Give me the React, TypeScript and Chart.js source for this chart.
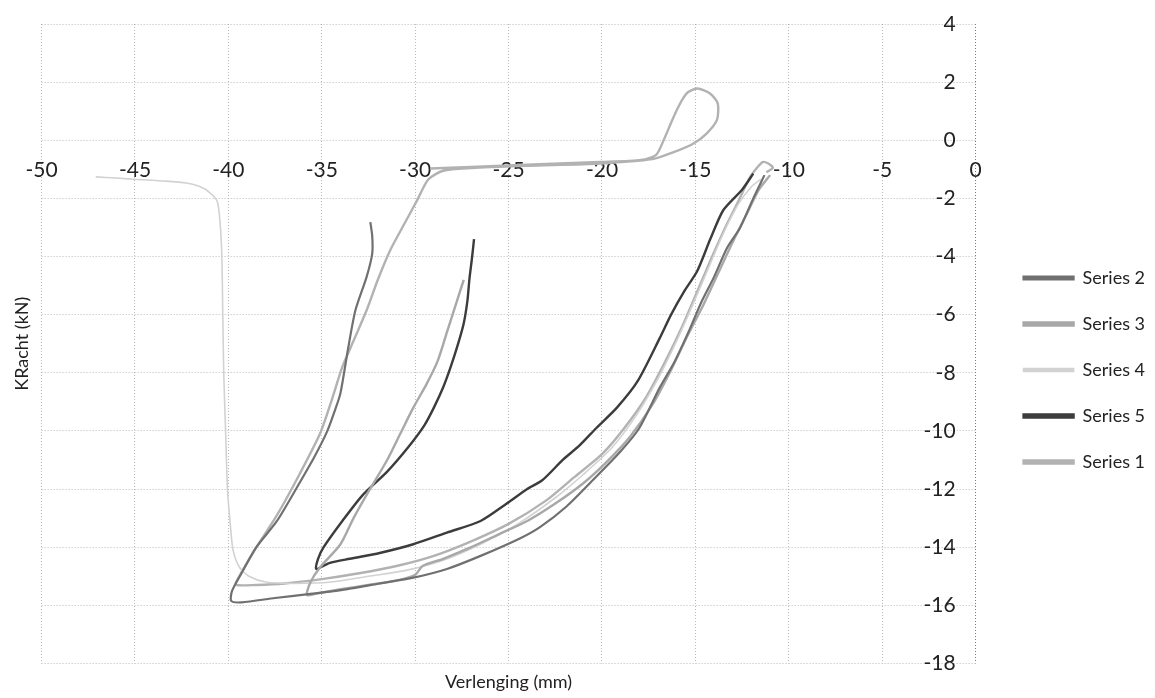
import React, { useEffect, useRef } from 'react';
import { Chart, registerables } from 'chart.js';

Chart.register(...registerables);

type P = [number, number];

// Series order as in the legend
const seriesNames = ['Series 2', 'Series 3', 'Series 4', 'Series 5', 'Series 1'];
const seriesColors = ['#707070', '#a8a8a8', '#d2d2d2', '#3c3c3c', '#b2b2b2'];
const seriesWidths = [2.2, 2.4, 1.6, 2.4, 2.4];

const xTickValues = [-50, -45, -40, -35, -30, -25, -20, -15, -10, -5, 0];
const yTickValues = [-18, -16, -14, -12, -10, -8, -6, -4, -2, 0, 2, 4];

const series2: P[] = [
  [-11.3, -1.2], [-11.9, -2.0], [-12.6, -3.0], [-13.3, -3.7], [-14.0, -4.7], [-14.7, -5.6],
  [-15.3, -6.5], [-16.1, -7.6], [-16.9, -8.5], [-18.0, -9.9], [-19.0, -10.7], [-20.5, -11.7],
  [-21.9, -12.6], [-23.3, -13.3], [-24.4, -13.7], [-26.5, -14.3], [-28.3, -14.75], [-30.1, -15.05],
  [-31.9, -15.25], [-33.7, -15.45], [-35.5, -15.6], [-37.5, -15.75], [-39.3, -15.9], [-39.85, -15.85],
  [-39.8, -15.5], [-39.3, -14.9], [-38.5, -14.0], [-37.4, -13.1], [-36.2, -11.8], [-35.4, -10.9],
  [-34.7, -10.0], [-34.3, -9.3], [-34.0, -8.7], [-33.6, -7.2], [-33.2, -5.85], [-32.6, -4.7],
  [-32.3, -3.9], [-32.3, -3.3], [-32.4, -2.82],
];

const series3: P[] = [
  [-11.0, -1.2], [-11.6, -1.7], [-12.3, -2.6], [-13.0, -3.5], [-13.8, -4.6], [-14.6, -5.7],
  [-15.4, -6.7], [-16.3, -7.9], [-17.3, -9.1], [-18.5, -10.2], [-19.8, -11.1], [-21.0, -11.8],
  [-22.5, -12.5], [-24.0, -13.1], [-25.5, -13.55], [-27.0, -14.0], [-28.5, -14.4], [-29.6, -14.65],
  [-30.0, -14.95], [-31.0, -15.15], [-32.5, -15.3], [-34.0, -15.45], [-35.3, -15.6], [-35.8, -15.65],
  [-35.6, -15.2], [-35.1, -14.7], [-34.0, -13.9], [-33.3, -13.0], [-32.6, -12.2], [-31.5, -11.0],
  [-30.8, -10.1], [-30.1, -9.2], [-29.4, -8.4], [-28.8, -7.6], [-28.3, -6.6], [-27.8, -5.6],
  [-27.4, -4.8],
];

const series4: P[] = [
  [-47.1, -1.26], [-46.0, -1.3], [-45.1, -1.34], [-43.5, -1.4], [-42.25, -1.47], [-41.5, -1.6],
  [-41.0, -1.8], [-40.6, -2.1], [-40.45, -2.8], [-40.35, -4.0], [-40.3, -6.0], [-40.25, -8.0],
  [-40.15, -10.0], [-40.05, -12.0], [-39.9, -13.2], [-39.75, -14.1], [-39.4, -14.7], [-38.9, -15.0],
  [-38.0, -15.2], [-36.5, -15.25], [-34.5, -15.2], [-32.5, -15.0], [-30.5, -14.8], [-28.5, -14.45],
  [-26.5, -13.9], [-24.5, -13.2], [-22.5, -12.3], [-21.0, -11.5], [-19.5, -10.6], [-18.2, -9.5],
  [-17.0, -8.2], [-16.0, -6.9], [-15.1, -5.6], [-14.3, -4.4], [-13.5, -3.2], [-12.7, -2.2],
  [-12.0, -1.6], [-11.5, -1.35],
];

const series5: P[] = [
  [-11.9, -1.15], [-12.5, -1.7], [-13.5, -2.4], [-14.2, -3.4], [-14.9, -4.5], [-15.6, -5.2],
  [-16.3, -6.0], [-16.9, -6.8], [-18.1, -8.3], [-19.2, -9.2], [-20.3, -9.9], [-21.2, -10.5],
  [-22.1, -11.0], [-23.2, -11.7], [-24.0, -12.0], [-25.1, -12.5], [-26.5, -13.1], [-28.3, -13.5],
  [-30.1, -13.9], [-31.9, -14.2], [-33.5, -14.4], [-34.6, -14.55], [-35.3, -14.75], [-35.2, -14.4],
  [-34.9, -14.0], [-33.9, -13.1], [-32.8, -12.2], [-31.5, -11.4], [-30.3, -10.5], [-29.5, -9.8],
  [-29.0, -9.2], [-28.5, -8.5], [-28.1, -7.8], [-27.7, -7.0], [-27.4, -6.3], [-27.2, -5.5],
  [-27.1, -4.8], [-26.95, -4.0], [-26.85, -3.4],
];

const series1: P[] = [
  [-29.2, -0.97], [-27.0, -0.92], [-23.7, -0.83], [-20.1, -0.75], [-17.9, -0.68], [-17.1, -0.5],
  [-16.7, 0.0], [-16.3, 0.6], [-16.0, 1.03], [-15.7, 1.4], [-15.4, 1.65], [-14.9, 1.78],
  [-14.2, 1.6], [-13.8, 1.26], [-13.85, 0.69], [-14.4, 0.23], [-15.1, -0.11], [-16.2, -0.42],
  [-17.3, -0.65], [-20.1, -0.8], [-24.0, -0.88], [-27.0, -0.96], [-28.5, -1.05], [-29.3, -1.35],
  [-29.9, -2.07], [-30.6, -2.9], [-31.35, -3.8], [-32.0, -4.8], [-32.6, -5.85], [-33.3, -6.9],
  [-33.9, -7.8], [-34.5, -9.0], [-35.1, -10.1], [-36.2, -11.5], [-37.4, -12.9], [-38.6, -14.1],
  [-39.5, -15.1], [-39.6, -15.3], [-38.5, -15.3], [-37.0, -15.25], [-35.0, -15.1], [-33.0, -14.9],
  [-31.0, -14.65], [-29.0, -14.3], [-27.0, -13.8], [-25.0, -13.2], [-23.0, -12.4], [-21.5, -11.6],
  [-20.0, -10.8], [-18.8, -9.9], [-17.6, -8.8], [-16.6, -7.6], [-15.7, -6.4], [-14.9, -5.2],
  [-14.1, -4.0], [-13.4, -3.0], [-12.7, -2.1], [-12.1, -1.3], [-11.7, -0.95], [-11.4, -0.75],
  [-11.1, -0.8], [-10.85, -0.95], [-11.2, -1.1],
];

const seriesData: P[][] = [series2, series3, series4, series5, series1];

export default function App() {
  const canvasRef = useRef<HTMLCanvasElement>(null);

  useEffect(() => {
    const canvas = canvasRef.current;
    if (!canvas) return;
    Chart.defaults.font.family = 'Lato, "Liberation Sans", sans-serif';
    const gridColor = 'rgba(140,140,140,0.6)';
    const chart = new Chart(canvas, {
      type: 'scatter',
      data: {
        datasets: seriesNames.map((name, i) => ({
          label: name,
          data: seriesData[i].map(([x, y]) => ({ x, y })),
          borderColor: seriesColors[i],
          backgroundColor: seriesColors[i],
          borderWidth: seriesWidths[i],
          showLine: true,
          pointRadius: 0,
          pointHoverRadius: 0,
          tension: 0.25,
          xAxisID: 'x',
          yAxisID: 'y',
        })),
      },
      options: {
        responsive: false,
        animation: false,
        layout: { padding: { top: 24, left: 0, right: 0, bottom: 0 } },
        plugins: {
          legend: {
            position: 'right',
            align: 'center',
            title: { display: true, text: ' ', font: { size: 10 }, padding: { top: 0, bottom: 6 } },
            labels: {
              boxWidth: 50,
              boxHeight: 3,
              padding: 28,
              color: '#222',
              font: { size: 18 },
            },
          },
          tooltip: { enabled: false },
        },
        scales: {
          x: {
            type: 'linear',
            axis: 'x',
            position: { y: 0 } as any,
            min: -50,
            max: 0,
            afterBuildTicks: (s: any) => { s.ticks = xTickValues.map((v) => ({ value: v })); },
            ticks: { padding: 17, color: '#222', font: { size: 21 } },
            grid: {
              color: (c: any) => (c.tick && c.tick.value === 0 ? '#7a7a7a' : gridColor),
              drawTicks: false,
              lineWidth: 1,
            },
            border: { display: false, dash: [1, 2] },
          },
          y: {
            type: 'linear',
            axis: 'y',
            position: 'right',
            min: -18,
            max: 4,
            afterBuildTicks: (s: any) => { s.ticks = yTickValues.map((v) => ({ value: v })); },
            afterFit: (s: any) => { s.width = 20; s.paddingTop = 0; s.paddingBottom = 0; },
            ticks: { mirror: true, padding: -20, color: '#222', font: { size: 21 } },
            grid: { color: gridColor, drawTicks: false, lineWidth: 1 },
            border: { display: false, dash: [1, 2] },
          },
          xTitle: {
            type: 'linear',
            axis: 'x',
            position: 'bottom',
            ticks: { display: false },
            grid: { display: false, drawTicks: false },
            border: { display: false },
            title: {
              display: true,
              text: 'Verlenging (mm)',
              color: '#222',
              font: { size: 18 },
              padding: { top: 8, bottom: 5 },
            },
          },
          yTitle: {
            type: 'linear',
            axis: 'y',
            position: 'left',
            ticks: { display: false },
            grid: { display: false, drawTicks: false },
            border: { display: false },
            title: {
              display: true,
              text: 'KRacht (kN)',
              color: '#222',
              font: { size: 18 },
              padding: { top: 11, bottom: 9 },
            },
          },
        } as any,
      },
    });
    return () => chart.destroy();
  }, []);

  return (
    <div style={{ position: 'fixed', left: 0, top: 0, width: 1155, height: 698, background: '#fff' }}>
      <canvas ref={canvasRef} width={1155} height={698} style={{ display: 'block' }} />
    </div>
  );
}
